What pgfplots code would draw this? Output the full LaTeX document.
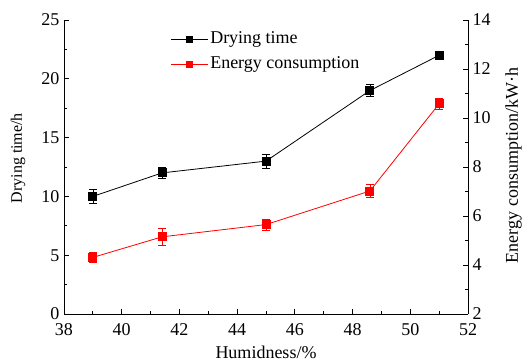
\documentclass[border=0pt]{standalone}
\usepackage{pgfplots}
\pgfplotsset{compat=1.18}
\usetikzlibrary{calc}
\usepackage{fontspec}
\setmainfont{Liberation Serif}
\begin{document}
\begin{tikzpicture}
\pgfplotsset{
  every axis/.append style={
    scale only axis, width=404pt, height=294pt,
    xmin=38, xmax=52,
    /pgf/number format/assume math mode=true,
    tick label style={font=\fontsize{18}{21}\selectfont},
    major tick length=5pt, minor tick length=3pt,
    tick style={black, line width=0.8pt},
    axis line style={line width=0.9pt},
    tick align=inside,
  }
}
\begin{axis}[
  name=ax,
  axis x line*=bottom, axis y line*=left,
  ymin=0, ymax=25,
  xtick={38,40,...,52}, minor x tick num=1,
  ytick={0,5,...,25}, minor y tick num=1,
  xticklabel style={yshift=-6pt},
  yticklabel style={xshift=-1pt},
  xlabel={Humidness/\%}, ylabel={Drying time/h},
  every axis x label/.style={at={(axis description cs:0.5,-0.153)}, anchor=base, font=\fontsize{18}{21}\selectfont},
  every axis y label/.style={at={(axis description cs:-0.1139,0.53)}, anchor=center, rotate=90, font=\fontsize{16}{19}\selectfont},
]
\addplot[black, line width=0.8pt, mark=square*, mark size=4pt,
  error bars/.cd, y dir=both, y explicit, error mark options={rotate=90, mark size=4pt, line width=0.6pt}, error bar style={line width=0.6pt}]
  coordinates {
  (39,10) +- (0,0.6)
  (41.4,12) +- (0,0.45)
  (45,13) +- (0,0.6)
  (48.6,19) +- (0,0.5)
  (51,22) +- (0,0.35)
  };
\end{axis}
\begin{axis}[
  axis x line=none, axis y line*=right,
  ymin=2, ymax=14,
  ytick={2,4,...,14}, minor y tick num=1,
  yticklabel style={xshift=1pt},
  ylabel={Energy consumption/kW·h},
  every axis y label/.style={at={(axis description cs:1.1126,0.505)}, anchor=center, rotate=90, font=\fontsize{18}{21}\selectfont},
  legend style={draw=none, fill=none, at={(axis description cs:0.263,0.893)}, anchor=west,
    font=\fontsize{18}{21}\selectfont, row sep=6pt, inner sep=0pt,
    nodes={inner sep=2pt, text height=12pt, text depth=3pt},
    /tikz/every even column/.append style={column sep=0pt}},
  legend cell align=left,
  legend image code/.code={
    \draw[#1] (0pt,0pt) -- (37pt,0pt);
    \draw[#1, mark size=3pt, mark repeat=1] plot coordinates {(18.5pt,0pt)};
  },
]
\addlegendimage{black, line width=0.8pt, mark=square*}
\addlegendentry{Drying time}
\addplot[red, line width=0.8pt, mark=square*, mark size=4pt,
  error bars/.cd, y dir=both, y explicit, error mark options={rotate=90, mark size=4pt, line width=0.6pt}, error bar style={line width=0.6pt}]
  coordinates {
  (39,4.31) +- (0,0.2)
  (41.4,5.15) +- (0,0.35)
  (45,5.65) +- (0,0.22)
  (48.6,7.02) +- (0,0.27)
  (51,10.58) +- (0,0.22)
  };
\addlegendentry{Energy consumption}
\end{axis}
\pgfresetboundingbox
\path[use as bounding box] ($(ax.south west)+(-64pt,-48pt)$) rectangle ($(ax.north east)+(54pt,20pt)$);
\end{tikzpicture}
\end{document}
